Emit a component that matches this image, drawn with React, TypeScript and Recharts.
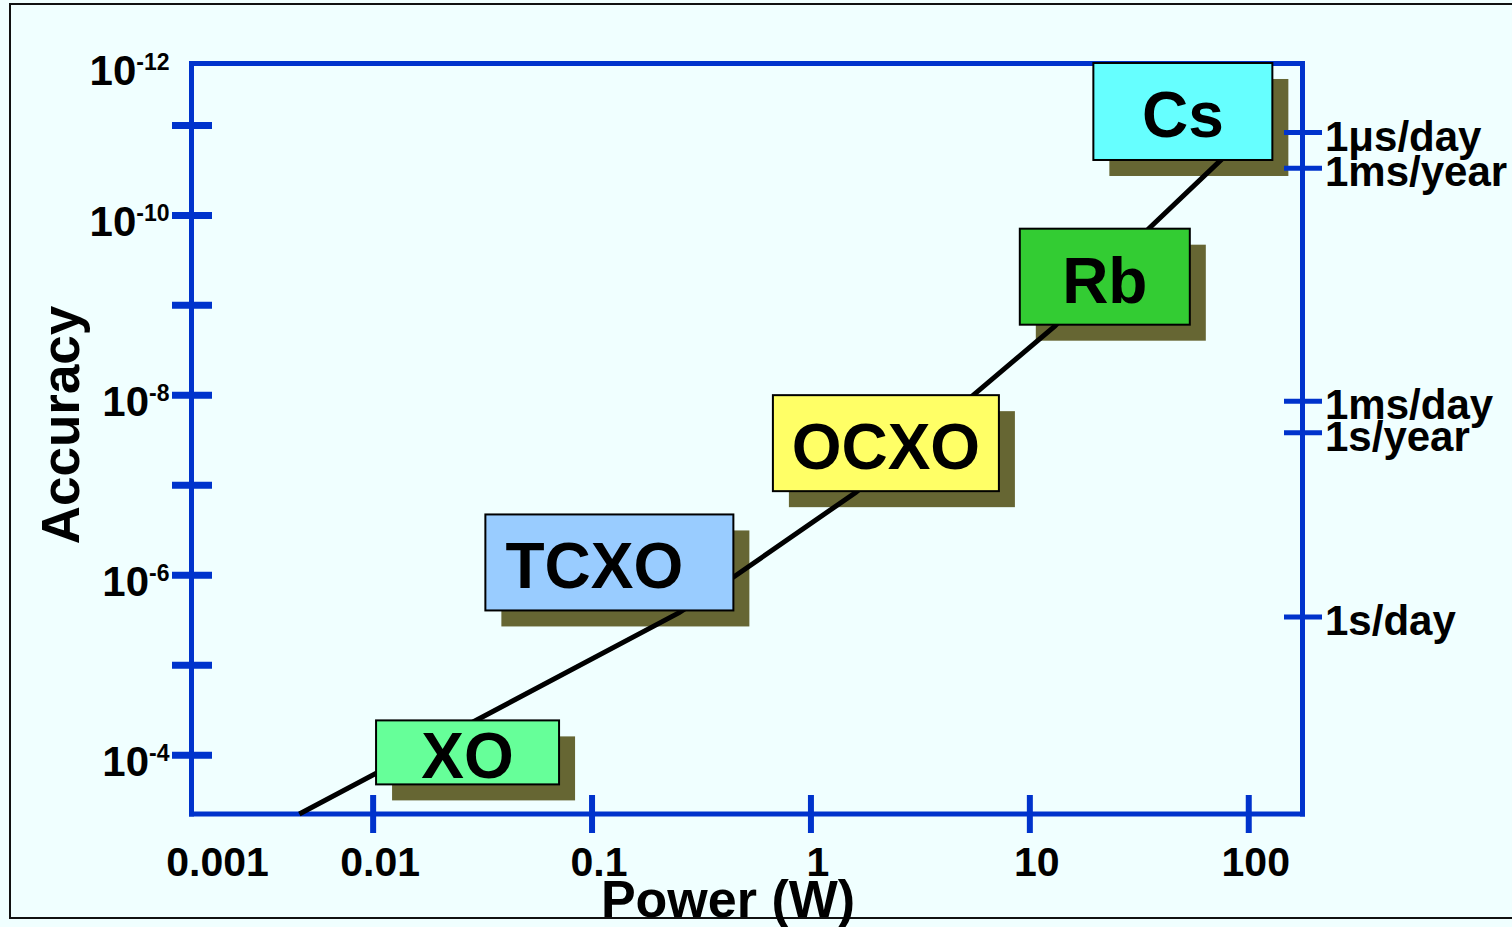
import { ScatterChart, Scatter, XAxis, YAxis } from 'recharts';

// oscillator families: box centres (power in W, fractional accuracy)
const oscillators = ['XO', 'TCXO', 'OCXO', 'Rb', 'Cs'];
const oscPower = [0.027, 0.12, 2.2, 22, 50];
const oscAccuracy = [9.3e-5, 7.2e-7, 3.4e-8, 4.8e-10, 7e-12];

// the black trend line running through the boxes
const trendPower = [0.0046, 0.25, 0.43, 1.6, 5.5, 13, 35, 87];
const trendAccuracy = [4.5e-4, 2.6e-6, 1.1e-6, 1.2e-7, 1.0e-8, 1.7e-9, 1.4e-10, 1.7e-11];

const powerDomain = [0.00148, 176];
const accuracyDomain = [2.05e-12, 4.5e-4];

const powerTicks = [0.00148, 0.01, 0.1, 1, 10, 100];
const powerTickLabels = ['0.001', '0.01', '0.1', '1', '10', '100'];

const accuracyTicks = [2.05e-12, 1e-11, 1e-10, 1e-9, 1e-8, 1e-7, 1e-6, 1e-5, 1e-4];
const accuracyExponents = ['-12', '', '-10', '', '-8', '', '-6', '', '-4'];

const driftTicks = [1.2e-11, 3.0e-11, 1.16e-8, 2.6e-8, 2.9e-6];
const driftLabels = ['1\u03bcs/day', '1ms/year', '1ms/day', '1s/year', '1s/day'];

const BLUE = '#0033cc';
const SHADOW = '#666633';
const FONT = '"Liberation Sans", Arial, Helvetica, sans-serif';

const boxStyle: Record<string, { w: number; h: number; fill: string; dx: number }> = {
  XO: { w: 183, h: 64, fill: '#66ff99', dx: 0 },
  TCXO: { w: 248, h: 96, fill: '#99ccff', dx: -15 },
  OCXO: { w: 226, h: 96, fill: '#ffff66', dx: 0 },
  Rb: { w: 170, h: 96, fill: '#33cc33', dx: 0 },
  Cs: { w: 179, h: 97, fill: '#66ffff', dx: 0 },
};

const boxData = oscillators.map((name, i) => ({ name, power: oscPower[i], accuracy: oscAccuracy[i] }));
const trendData = trendPower.map((p, i) => ({ power: p, accuracy: trendAccuracy[i] }));

const textStyle = { fontFamily: FONT, fontWeight: 700, fill: '#000' };

function PowerTick(props: any) {
  const { x, y, payload } = props;
  const i = powerTicks.indexOf(payload.value);
  return (
    <g>
      {i > 0 && <line x1={x} x2={x} y1={y - 19} y2={y + 19} stroke={BLUE} strokeWidth={6} />}
      <text x={x + (i === 0 ? 26 : 7)} y={y + 62} textAnchor="middle" fontSize={41} style={textStyle}>
        {powerTickLabels[i]}
      </text>
    </g>
  );
}

function AccuracyTick(props: any) {
  const { x, y, payload } = props;
  const i = accuracyTicks.indexOf(payload.value);
  const exp = accuracyExponents[i];
  return (
    <g>
      {i > 0 && <line x1={x - 19.5} x2={x + 20.5} y1={y} y2={y} stroke={BLUE} strokeWidth={7} />}
      {exp && (
        <text x={x - 22} y={y + 21} textAnchor="end" style={textStyle}>
          <tspan fontSize={42}>10</tspan>
          <tspan fontSize={23} dy={-15}>{exp}</tspan>
        </text>
      )}
    </g>
  );
}

function DriftTick(props: any) {
  const { x, y, payload } = props;
  const i = driftTicks.indexOf(payload.value);
  return (
    <g>
      <line x1={x - 18.5} x2={x + 19.5} y1={y} y2={y} stroke={BLUE} strokeWidth={5} />
      <text x={x + 22.5} y={y + 18} textAnchor="start" fontSize={42} style={textStyle}>
        {driftLabels[i]}
      </text>
    </g>
  );
}

function ShadowShape(props: any) {
  const { cx, cy, payload } = props;
  const s = boxStyle[payload.name];
  return <rect x={cx - s.w / 2 + 16} y={cy - s.h / 2 + 16} width={s.w} height={s.h} fill={SHADOW} />;
}

function BoxShape(props: any) {
  const { cx, cy, payload } = props;
  const s = boxStyle[payload.name];
  return (
    <g>
      <rect x={cx - s.w / 2} y={cy - s.h / 2} width={s.w} height={s.h} fill={s.fill} stroke="#000" strokeWidth={2} />
      <text x={cx + s.dx} y={cy + 26} textAnchor="middle" fontSize={64} style={textStyle}>
        {payload.name}
      </text>
    </g>
  );
}

const NoDot = () => <g />;

const axisLine = { stroke: BLUE, strokeWidth: 5, strokeLinecap: 'square' as const };

export default function App() {
  return (
    <div style={{ position: 'absolute', left: 0, top: 0, width: 1512, height: 927, overflow: 'hidden', background: '#f0ffff' }}>
      <div style={{ position: 'absolute', left: 9, top: 3, width: 1600, height: 912, border: '2px solid #111' }} />
      <div style={{ position: 'absolute', left: 0, top: 0 }}>
        <ScatterChart width={1512} height={927} margin={{ top: 0, right: 0, bottom: 0, left: 0 }}>
          <XAxis
            xAxisId="b"
            type="number"
            dataKey="power"
            scale="log"
            domain={powerDomain}
            ticks={powerTicks}
            interval={0}
            height={113}
            tickSize={0}
            tickMargin={0}
            tickLine={false}
            axisLine={axisLine}
            tick={<PowerTick />}
            label={() => (
              <text x={728} y={917} textAnchor="middle" fontSize={52} style={textStyle}>
                Power (W)
              </text>
            )}
          />
          <XAxis
            xAxisId="t"
            orientation="top"
            type="number"
            dataKey="power"
            scale="log"
            domain={powerDomain}
            height={63.5}
            tick={false}
            tickLine={false}
            axisLine={axisLine}
          />
          <YAxis
            yAxisId="l"
            type="number"
            dataKey="accuracy"
            scale="log"
            reversed
            domain={accuracyDomain}
            ticks={accuracyTicks}
            interval={0}
            width={191.5}
            tickSize={0}
            tickMargin={0}
            tickLine={false}
            axisLine={axisLine}
            tick={<AccuracyTick />}
            label={() => (
              <text x={79} y={425} transform="rotate(-90 79 425)" textAnchor="middle" fontSize={53} style={textStyle}>
                Accuracy
              </text>
            )}
          />
          <YAxis
            yAxisId="r"
            orientation="right"
            type="number"
            dataKey="accuracy"
            scale="log"
            reversed
            domain={accuracyDomain}
            ticks={driftTicks}
            interval={0}
            width={209.5}
            tickSize={0}
            tickMargin={0}
            tickLine={false}
            axisLine={axisLine}
            tick={<DriftTick />}
          />
          <Scatter xAxisId="t" yAxisId="r" data={boxData} shape={ShadowShape} isAnimationActive={false} />
          <Scatter
            xAxisId="b"
            yAxisId="l"
            data={trendData}
            line={{ stroke: '#000', strokeWidth: 5 }}
            shape={NoDot}
            isAnimationActive={false}
          />
          <Scatter xAxisId="b" yAxisId="l" data={boxData} shape={BoxShape} isAnimationActive={false} />
        </ScatterChart>
      </div>
    </div>
  );
}
